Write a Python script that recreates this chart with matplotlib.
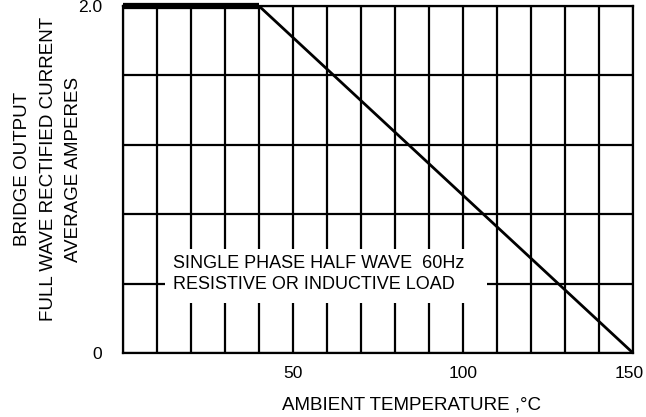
import matplotlib
matplotlib.use("Agg")
import matplotlib.pyplot as plt
from matplotlib.patches import Rectangle
from matplotlib.transforms import ScaledTranslation

# derating curve: full current up to 40 C, then linear down to 0 at 150 C
temp_c = [0, 40, 150]
current_a = [2.0, 2.0, 0.0]

x_grid = list(range(0, 151, 10))
y_grid = [0.0, 0.4, 0.8, 1.2, 1.6, 2.0]
x_ticks = [50, 100, 150]
x_tick_labels = ["50", "100", "150"]
y_ticks = [0.0, 2.0]
y_tick_labels = ["0", "2.0"]

note = "SINGLE PHASE HALF WAVE  60Hz\nRESISTIVE OR INDUCTIVE LOAD"


def main():
    plt.rcParams["font.family"] = ["Liberation Sans", "DejaVu Sans"]
    fig = plt.figure(figsize=(6.46, 4.17), dpi=100)
    ax = fig.add_axes([123 / 646, 1 - 353 / 417, 510 / 646, 347 / 417])

    for x in x_grid:
        ax.axvline(x, color="black", lw=1.6, zorder=1)
    for y in y_grid:
        ax.axhline(y, color="black", lw=1.6, zorder=1)

    # thick flat part, thinner slope
    ax.plot(temp_c[:2], current_a[:2], color="black", lw=4.5,
            solid_capstyle="butt", clip_on=False, zorder=3)
    ax.plot(temp_c[1:], current_a[1:], color="black", lw=2, zorder=3)

    # white backdrop behind the note, blanking the grid
    ax.add_patch(Rectangle((12.4, 0.29), 94.7, 0.31, fc="white", ec="none", zorder=2))
    ax.text(14.7, 0.455, note, fontsize=13, va="center", ha="left",
            linespacing=1.25, zorder=4)

    ax.set_xlim(0, 150)
    ax.set_ylim(0, 2.0)
    ax.set_xticks(x_ticks)
    ax.set_xticklabels(x_tick_labels, fontsize=12.5)
    ax.set_yticks(y_ticks)
    ax.set_yticklabels(y_tick_labels, fontsize=12.5)
    ax.tick_params(axis="x", length=0, pad=9)
    ax.tick_params(axis="y", length=0, pad=15)
    for s in ax.spines.values():
        s.set_linewidth(1.6)
    # last x label sits a little left of its grid line, inside the figure
    last = ax.get_xticklabels()[-1]
    last.set_transform(last.get_transform() + ScaledTranslation(-4 / 100, 0, fig.dpi_scale_trans))

    ax.set_xlabel("AMBIENT TEMPERATURE ,°C", fontsize=13.5)
    ax.xaxis.set_label_coords(0.566, -0.125)
    ax.set_ylabel("BRIDGE OUTPUT\nFULL WAVE RECTIFIED CURRENT\nAVERAGE AMPERES",
                  fontsize=13.5, linespacing=1.65)
    ax.yaxis.set_label_coords(-0.08, 0.53)

    fig.savefig("out.png", dpi=100)


if __name__ == "__main__":
    main()
